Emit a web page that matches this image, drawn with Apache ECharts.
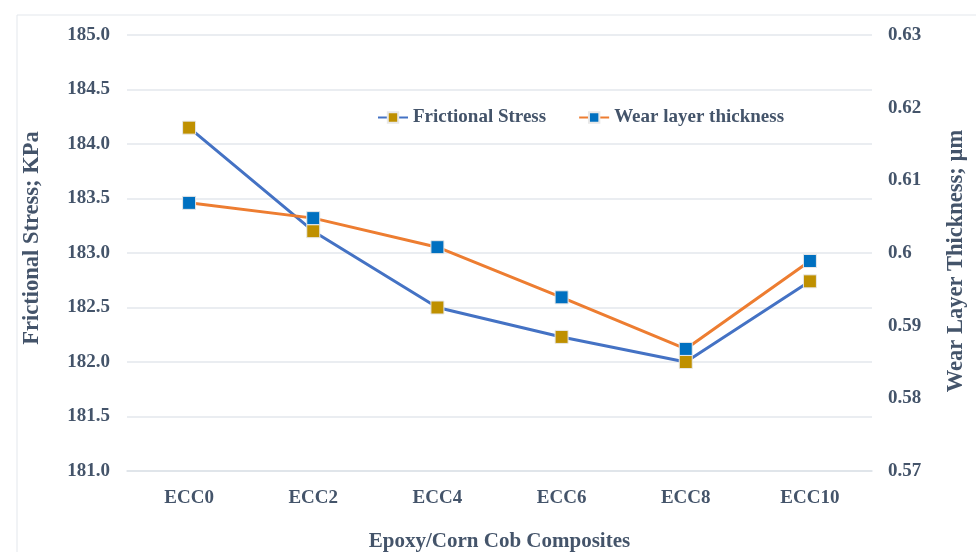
<!DOCTYPE html>
<html><head><meta charset="utf-8">
<script src="https://cdn.jsdelivr.net/npm/echarts@6/dist/echarts.min.js"></script>
<style>html,body{margin:0;padding:0;background:#fff}#c{width:976px;height:552px}</style>
</head><body><div id="c"></div>
<script>
const categories = ['ECC0','ECC2','ECC4','ECC6','ECC8','ECC10'];
const frictionalStress = [184.15, 183.20, 182.50, 182.23, 182.00, 182.74];
const wearThickness = [0.6069, 0.6048, 0.6008, 0.5939, 0.5868, 0.5989];
const leftTicks = {min:181, max:185, interval:0.5};
const rightTicks = {min:0.57, max:0.63, interval:0.01};

const txt = '#44546A';
const ff = '"Liberation Serif","Times New Roman",serif';
const chart = echarts.init(document.getElementById('c'));
chart.setOption({
  backgroundColor:'#fff',
  animation:false,
  graphic:[{type:'rect',shape:{x:17,y:15,width:1000,height:600},style:{fill:'none',stroke:'#E3E7EC',lineWidth:1},silent:true}],
  legend:{
    top:103, left:372, itemGap:32, itemWidth:30, itemHeight:13,
    textStyle:{fontFamily:ff,fontWeight:'bold',fontSize:19,color:txt},
    data:['Frictional Stress','Wear layer thickness']
  },
  grid:{left:127,right:104,top:35,bottom:81,outerBoundsMode:'none',containLabel:false},
  xAxis:{
    type:'category', data:categories, boundaryGap:true,
    axisLine:{show:true,lineStyle:{color:'#DDE2E8',width:1.5}},
    axisTick:{show:false},
    axisLabel:{fontFamily:ff,fontWeight:'bold',fontSize:19,color:txt,margin:18},
    name:'Epoxy/Corn Cob Composites', nameLocation:'middle', nameGap:60,
    nameTextStyle:{fontFamily:ff,fontWeight:'bold',fontSize:21,color:txt}
  },
  yAxis:[{
    type:'value', min:leftTicks.min, max:leftTicks.max, interval:leftTicks.interval,
    axisLine:{show:false}, axisTick:{show:false},
    splitLine:{lineStyle:{color:'#E3E7EC',width:1.5}},
    axisLabel:{fontFamily:ff,fontWeight:'bold',fontSize:19,color:txt,margin:17,formatter:v=>v.toFixed(1)},
    name:'Frictional Stress; KPa', nameLocation:'middle', nameGap:83, nameRotate:90,
    nameTextStyle:{fontFamily:ff,fontWeight:'bold',fontSize:22.5,color:txt,padding:[0,0,0,30]}
  },{
    type:'value', min:rightTicks.min, max:rightTicks.max, interval:rightTicks.interval,
    axisLine:{show:false}, axisTick:{show:false}, splitLine:{show:false},
    axisLabel:{fontFamily:ff,fontWeight:'bold',fontSize:19,color:txt,margin:16,
      formatter:v=>String(+v.toFixed(2))},
    name:'Wear Layer Thickness; µm', nameLocation:'middle', nameGap:73, nameRotate:90,
    nameTextStyle:{fontFamily:ff,fontWeight:'bold',fontSize:22.5,color:txt,padding:[0,16,0,0]}
  }],
  series:[{
    name:'Frictional Stress', type:'line', yAxisIndex:0, data:frictionalStress,
    symbol:'rect', symbolSize:13,
    lineStyle:{color:'#4472C4',width:3},
    itemStyle:{color:'#BF9000',borderColor:'#E8E8E8',borderWidth:1}
  },{
    name:'Wear layer thickness', type:'line', yAxisIndex:1, data:wearThickness,
    symbol:'rect', symbolSize:13,
    lineStyle:{color:'#ED7D31',width:3},
    itemStyle:{color:'#0070C0',borderColor:'#E8E8E8',borderWidth:1}
  }]
});
</script></body></html>
